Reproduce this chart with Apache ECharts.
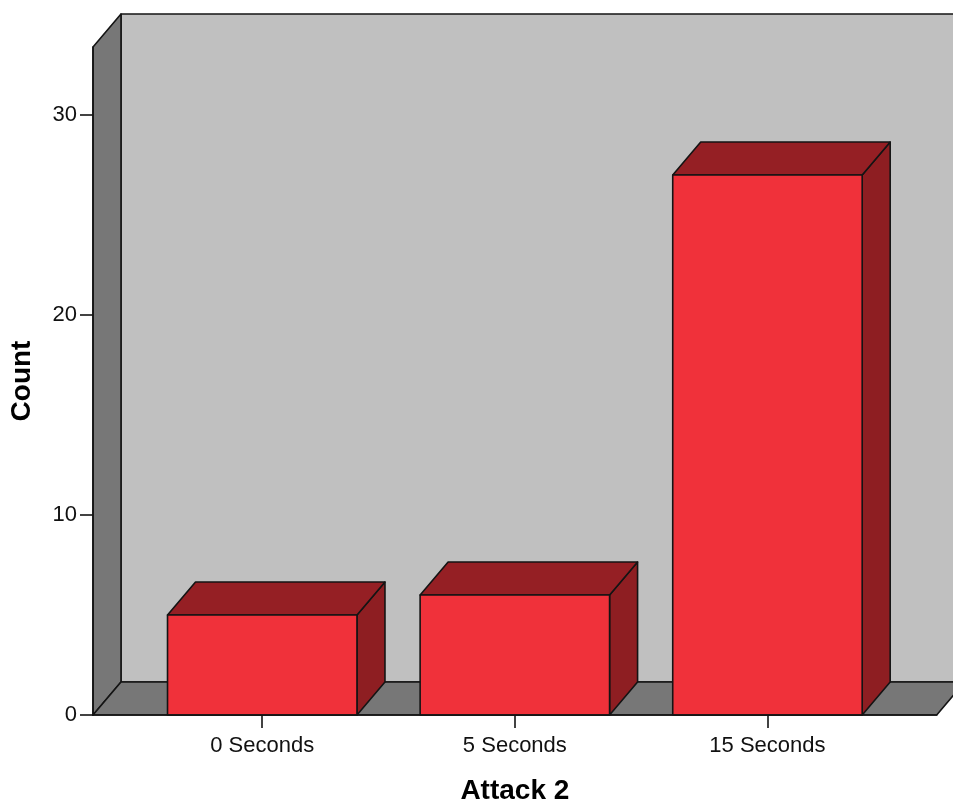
<!DOCTYPE html>
<html>
<head>
<meta charset="utf-8">
<script src="https://cdn.jsdelivr.net/npm/echarts@6/dist/echarts.min.js"></script>
<style>
  html, body { margin: 0; padding: 0; background: #ffffff; overflow: hidden; }
  #chart { width: 953px; height: 801px; }
</style>
</head>
<body>
<div id="chart"></div>
<script>
// Bar counts per category
const categories = ['0 Seconds', '5 Seconds', '15 Seconds'];
const counts = [5, 6, 27];
const yTicks = [0, 10, 20, 30];
const xTickPositions = categories.map((c, i) => i);

// Axis extents (the floor runs a little past the outer bars)
const X_MIN = -0.67, X_MAX = 2.67;
const Y_MAX = 33.4;

// Styling: bar half-width in category units, 3D depth offset in pixels
const BAR_HALF = 0.375;
const DEPTH_X = 28, DEPTH_Y = -33;
const EDGE = '#141414';
const FONT = '"Liberation Sans", Arial, sans-serif';

const shift = p => [p[0] + DEPTH_X, p[1] + DEPTH_Y];

function poly(points, fill) {
  return {
    type: 'polygon',
    shape: { points: points },
    style: { fill: fill, stroke: EDGE, lineWidth: 1.6, lineJoin: 'round' }
  };
}

// Back wall, left wall and floor of the 3D box
function renderWalls(params, api) {
  const a = api.coord([X_MIN, 0]);
  const b = api.coord([X_MAX, 0]);
  const aTop = api.coord([X_MIN, Y_MAX]);
  const bTop = api.coord([X_MAX, Y_MAX]);
  return {
    type: 'group',
    children: [
      poly([shift(a), shift(aTop), shift(bTop), shift(b)], '#c0c0c0'),
      poly([a, aTop, shift(aTop), shift(a)], '#777777'),
      poly([a, b, shift(b), shift(a)], '#777777')
    ]
  };
}

// One 3D bar: front face, top face, right side face
function renderBar(params, api) {
  const x = api.value(0);
  const v = api.value(1);
  const fl = api.coord([x - BAR_HALF, v]);
  const fr = api.coord([x + BAR_HALF, v]);
  const br = api.coord([x + BAR_HALF, 0]);
  const bl = api.coord([x - BAR_HALF, 0]);
  return {
    type: 'group',
    children: [
      poly([fr, br, shift(br), shift(fr)], '#8e1e22'),
      poly([fl, fr, shift(fr), shift(fl)], '#951f24'),
      poly([bl, fl, fr, br], '#f0313a')
    ]
  };
}

const chart = echarts.init(document.getElementById('chart'), null, { renderer: 'canvas' });

chart.setOption({
  backgroundColor: '#ffffff',
  animation: false,
  grid: {
    left: 93, right: 16.3, top: 47, bottom: 86,
    containLabel: false,
    outerBoundsMode: 'none'
  },
  xAxis: {
    type: 'value',
    min: X_MIN,
    max: X_MAX,
    z: 5,
    name: 'Attack 2',
    nameLocation: 'middle',
    nameGap: 62,
    nameTextStyle: { fontFamily: FONT, fontWeight: 'bold', fontSize: 28, color: '#000' },
    axisLine: { show: true, onZero: false, lineStyle: { color: EDGE, width: 1.6 } },
    axisTick: {
      show: true, inside: false, length: 13,
      customValues: xTickPositions,
      lineStyle: { color: EDGE, width: 1.6 }
    },
    axisLabel: {
      customValues: xTickPositions,
      margin: 20,
      fontFamily: FONT, fontSize: 22, color: '#111',
      formatter: v => categories[Math.round(v)]
    },
    splitLine: { show: false }
  },
  yAxis: {
    type: 'value',
    min: 0,
    max: Y_MAX,
    interval: 10,
    z: 5,
    name: 'Count',
    nameLocation: 'middle',
    nameGap: 57,
    nameTextStyle: { fontFamily: FONT, fontWeight: 'bold', fontSize: 28, color: '#000' },
    axisLine: { show: true, onZero: false, lineStyle: { color: EDGE, width: 1.6 } },
    axisTick: {
      show: true, inside: false, length: 13,
      customValues: yTicks,
      lineStyle: { color: EDGE, width: 1.6 }
    },
    axisLabel: {
      customValues: yTicks,
      margin: 16,
      fontFamily: FONT, fontSize: 22, color: '#111'
    },
    splitLine: { show: false }
  },
  series: [
    {
      type: 'custom',
      name: 'walls',
      renderItem: renderWalls,
      data: [[0, 0]],
      encode: { x: 0, y: 1 },
      silent: true,
      clip: false,
      z: 1
    },
    {
      type: 'custom',
      name: 'Count',
      renderItem: renderBar,
      data: categories.map((c, i) => [i, counts[i]]),
      encode: { x: 0, y: 1 },
      clip: false,
      z: 3
    }
  ]
});
</script>
</body>
</html>
